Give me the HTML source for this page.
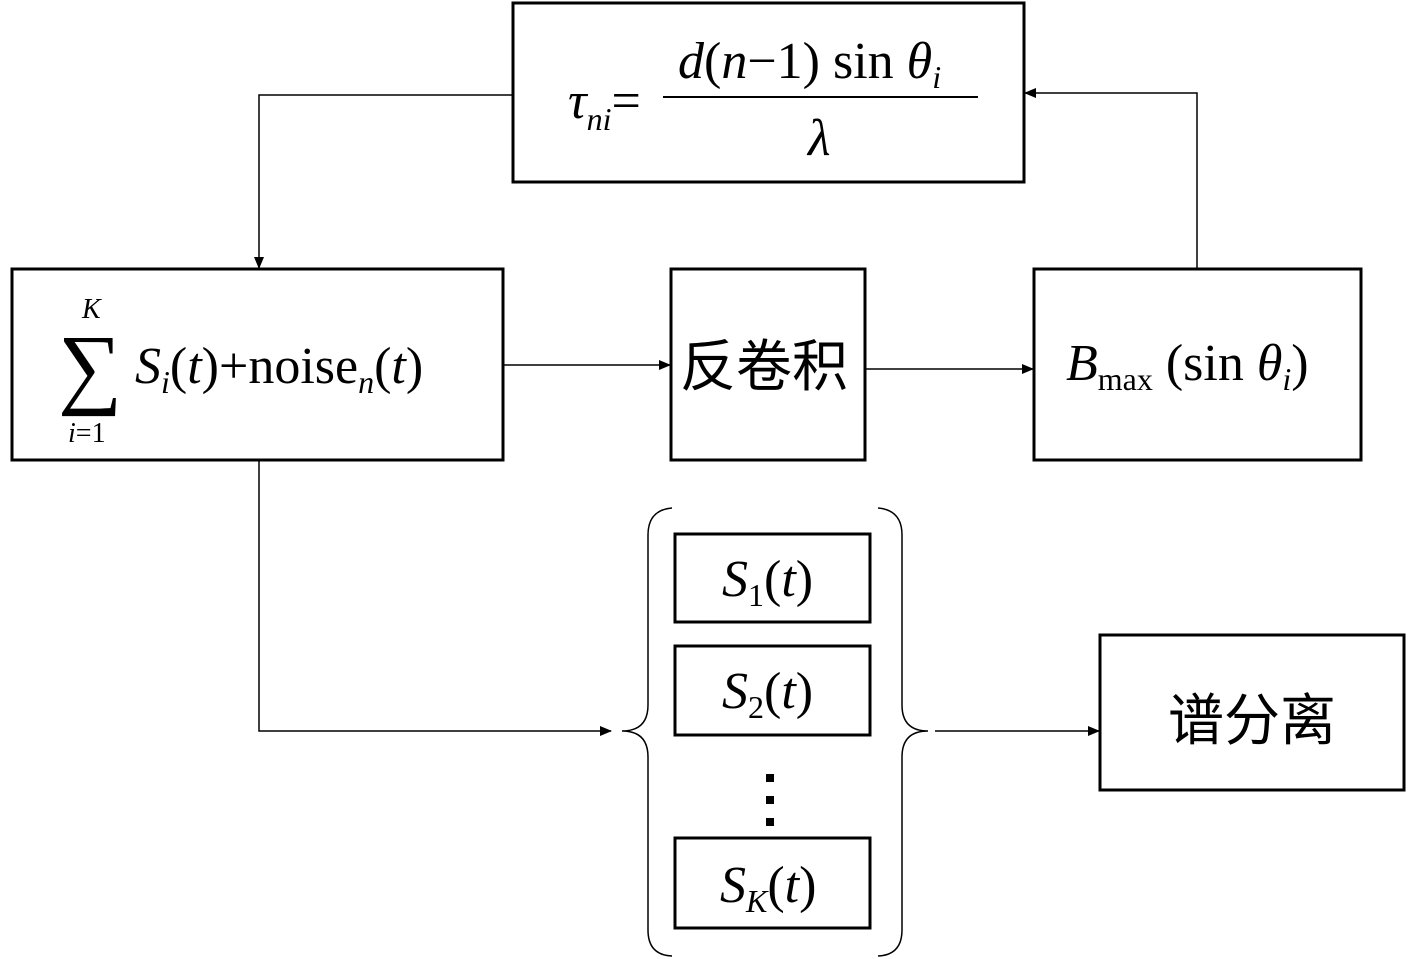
<!DOCTYPE html>
<html><head><meta charset="utf-8"><style>
html,body{margin:0;padding:0;background:#fff;}
svg{display:block;}
text{font-family:"Liberation Serif","Noto Serif CJK SC",serif;fill:#000;}
.cjk{font-family:"Liberation Serif","Noto Sans CJK SC",sans-serif;}
</style></head><body>
<svg width="1417" height="959" viewBox="0 0 1417 959" xmlns="http://www.w3.org/2000/svg">
<defs><marker id="a" markerWidth="12" markerHeight="10" refX="11" refY="5" orient="auto" markerUnits="userSpaceOnUse"><path d="M0,0 L12,5 L0,10 Z" fill="#000"/></marker></defs>
<g fill="none" stroke="#000" stroke-width="3">
<rect x="513" y="3" width="511" height="179"/>
<rect x="12" y="269" width="491" height="191"/>
<rect x="671" y="269" width="194" height="191"/>
<rect x="1034" y="269" width="327" height="191"/>
<rect x="675" y="534" width="195" height="88"/>
<rect x="675" y="646" width="195" height="89"/>
<rect x="675" y="838" width="195" height="90"/>
<rect x="1100" y="635" width="304" height="155"/>
</g>
<g fill="none" stroke="#000" stroke-width="1.5">
<polyline points="513,95 259,95 259,268" marker-end="url(#a)"/>
<line x1="503" y1="365" x2="670" y2="365" marker-end="url(#a)"/>
<line x1="865" y1="369" x2="1033" y2="369" marker-end="url(#a)"/>
<polyline points="1197,269 1197,93 1025,93" marker-end="url(#a)"/>
<polyline points="259,460 259,731 611,731" marker-end="url(#a)"/>
<line x1="935" y1="731" x2="1099" y2="731" marker-end="url(#a)"/>
<path d="M672,508 Q648,510 648,535 L648,705 Q648,731 622,731 Q648,731 648,757 L648,930 Q648,955 672,956"/>
<path d="M878,508 Q902,510 902,535 L902,705 Q902,731 928,731 Q902,731 902,757 L902,930 Q902,955 878,956"/>
</g>
<rect x="766" y="774" width="8" height="8"/><rect x="766" y="796" width="8" height="8"/><rect x="766" y="818" width="8" height="8"/>
<line x1="663" y1="97" x2="978" y2="97" stroke="#000" stroke-width="2"/>
<text x="568" y="118" font-size="52" font-style="italic">τ<tspan font-size="32" dy="12">ni</tspan><tspan dy="-12" font-style="normal">=</tspan></text>
<text x="678" y="78" font-size="52"><tspan font-style="italic">d</tspan>(<tspan font-style="italic">n</tspan>−1) sin <tspan font-style="italic">θ<tspan font-size="32" dy="10">i</tspan></tspan></text>
<text x="808" y="155" font-size="52" font-style="italic">λ</text>
<text x="58" y="397" font-size="90">∑</text>
<text x="82" y="318" font-size="28" font-style="italic">K</text>
<text x="68" y="442" font-size="28"><tspan font-style="italic">i</tspan>=1</text>
<text x="135" y="383" font-size="52"><tspan font-style="italic">S<tspan font-size="32" dy="10">i</tspan></tspan><tspan dy="-10">(</tspan><tspan font-style="italic">t</tspan>)+noise<tspan font-size="32" dy="10" font-style="italic">n</tspan><tspan dy="-10">(</tspan><tspan font-style="italic">t</tspan>)</text>
<text class="cjk" x="680" y="386" font-size="56">反卷积</text>
<text x="1066" y="380" font-size="52"><tspan font-style="italic">B</tspan><tspan font-size="32" dy="10">max</tspan><tspan dy="-10"> (sin </tspan><tspan font-style="italic">θ<tspan font-size="32" dy="10">i</tspan></tspan><tspan dy="-10">)</tspan></text>
<text x="722" y="596" font-size="52"><tspan font-style="italic">S</tspan><tspan font-size="32" dy="10">1</tspan><tspan dy="-10">(</tspan><tspan font-style="italic">t</tspan>)</text>
<text x="722" y="708" font-size="52"><tspan font-style="italic">S</tspan><tspan font-size="32" dy="10">2</tspan><tspan dy="-10">(</tspan><tspan font-style="italic">t</tspan>)</text>
<text x="720" y="902" font-size="52"><tspan font-style="italic">S</tspan><tspan font-size="32" dy="10" font-style="italic">K</tspan><tspan dy="-10">(</tspan><tspan font-style="italic">t</tspan>)</text>
<text class="cjk" x="1168" y="740" font-size="56">谱分离</text>
</svg>
</body></html>
